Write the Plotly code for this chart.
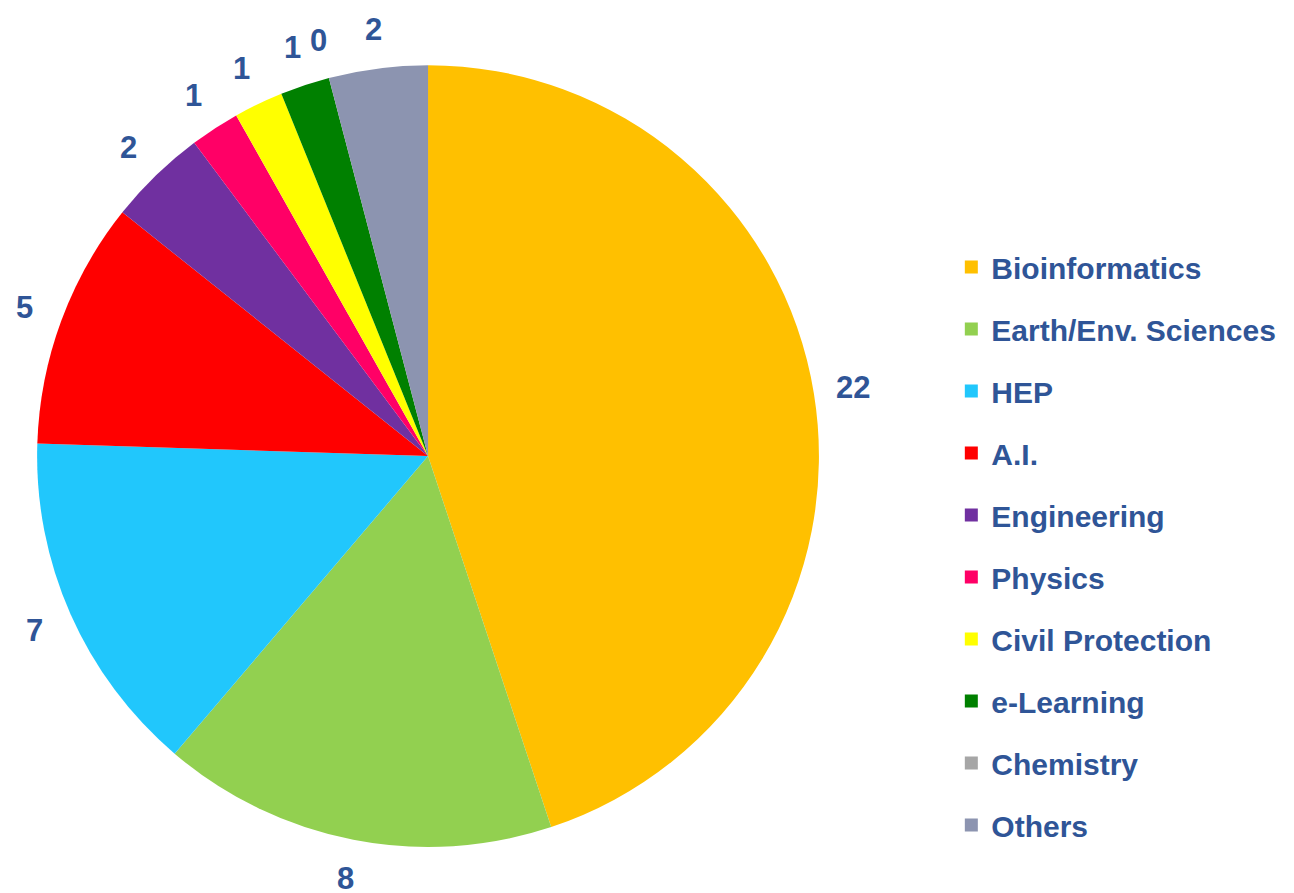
import math
import plotly.graph_objects as go

categories = ["Bioinformatics", "Earth/Env. Sciences", "HEP", "A.I.", "Engineering",
              "Physics", "Civil Protection", "e-Learning", "Chemistry", "Others"]
counts = [22, 8, 7, 5, 2, 1, 1, 1, 0, 2]
colors = ["#FFC000", "#92D050", "#21C7FC", "#FF0000", "#7030A0",
          "#FF0066", "#FFFF00", "#008000", "#A6A6A6", "#8C94B0"]

TEXT_COLOR = "#2F5597"
FONT = "Liberation Sans, Arial, sans-serif"
W, H = 1294, 893
DOM_X = [0.0224, 0.6268]
DOM_Y = [0.0605, 0.936]

fig = go.Figure()
fig.add_trace(go.Pie(
    labels=categories, values=counts, sort=False, direction="clockwise", rotation=0,
    marker=dict(colors=colors, line=dict(width=0)),
    textinfo="none",
    showlegend=False, hoverinfo="label+value",
    domain=dict(x=DOM_X, y=DOM_Y),
))

# value labels placed outside each slice, at the slice's mid angle
cx = (DOM_X[0] + DOM_X[1]) / 2 * W
cy = (DOM_Y[0] + DOM_Y[1]) / 2 * H
radius = min((DOM_X[1] - DOM_X[0]) * W, (DOM_Y[1] - DOM_Y[0]) * H) / 2
label_r = radius * 1.10
total = sum(counts)
cum = 0
for v in counts:
    mid = (cum + v / 2) / total * 2 * math.pi
    cum += v
    px = cx + label_r * math.sin(mid)
    py = cy + label_r * math.cos(mid)
    fig.add_annotation(
        x=px / W, y=py / H, xref="paper", yref="paper", text=str(v), showarrow=False,
        xanchor="center", yanchor="middle", borderpad=0,
        font=dict(family=FONT, size=31, color=TEXT_COLOR, weight="bold"),
    )

for i, (cat, col) in enumerate(zip(categories, colors)):
    fig.add_trace(go.Scatter(
        x=[None], y=[None], mode="markers", name=cat,
        marker=dict(symbol="square", size=13, color=col),
        legendgroup=f"g{i}", showlegend=True,
    ))

fig.update_layout(
    width=W, height=H,
    margin=dict(l=0, r=0, t=0, b=0),
    paper_bgcolor="white", plot_bgcolor="white",
    xaxis=dict(visible=False), yaxis=dict(visible=False),
    legend=dict(
        x=0.729, xanchor="left", y=0.739, yanchor="top",
        font=dict(family=FONT, size=30, color=TEXT_COLOR, weight="bold"),
        tracegroupgap=20, bgcolor="rgba(0,0,0,0)",
    ),
)

fig.write_html("out.html")
